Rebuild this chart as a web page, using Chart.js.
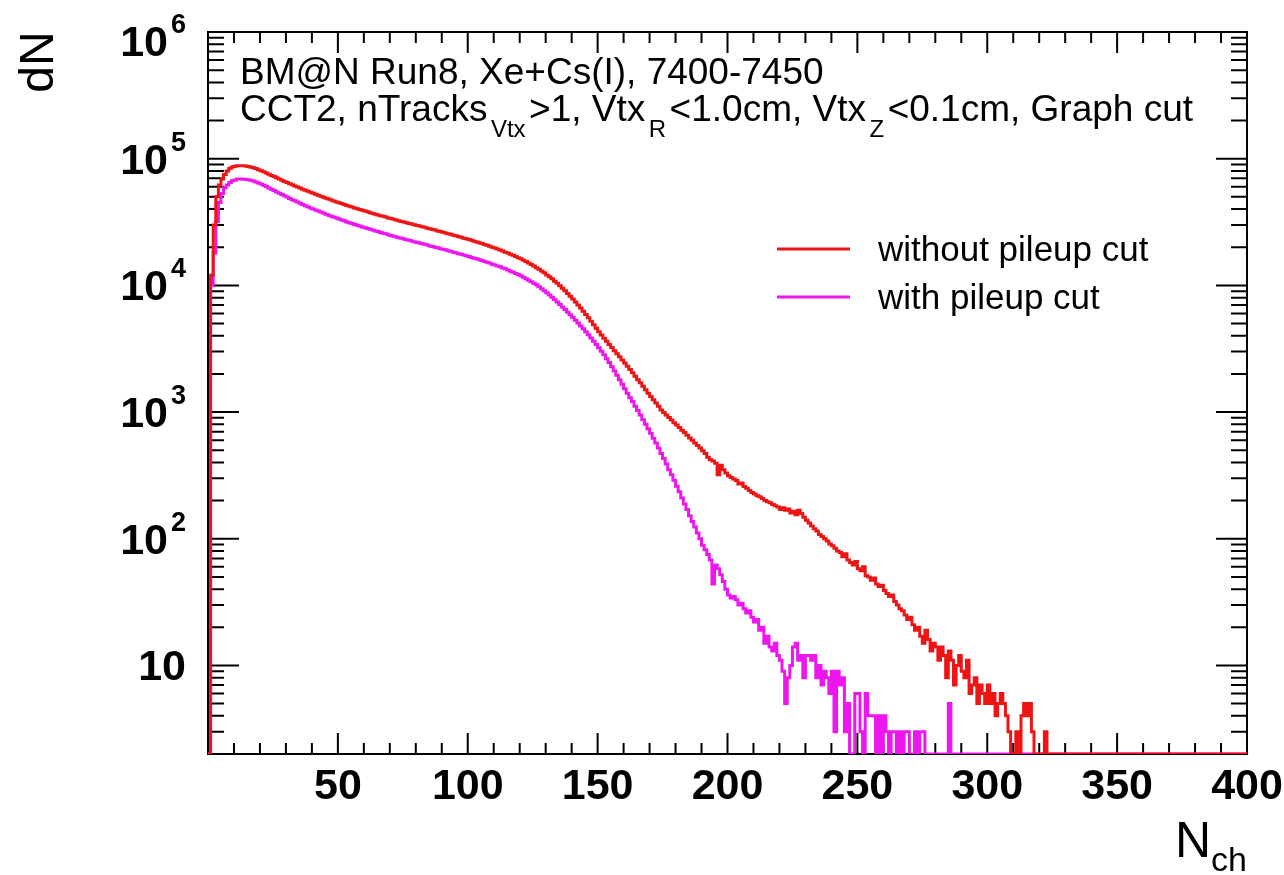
<!DOCTYPE html>
<html>
<head>
<meta charset="utf-8">
<script src="https://cdn.jsdelivr.net/npm/chart.js@4.4.1/dist/chart.umd.min.js"></script>
<style>
  html, body { margin: 0; padding: 0; background: #fff; }
  #wrap { width: 1284px; height: 875px; }
</style>
</head>
<body>
<div id="wrap"><canvas id="nchChart" width="1284" height="875"></canvas></div>
<script>
// Counts per N_ch bin (bin width 1, index = lower bin edge). Bins past the end of a list are empty.
const withoutPileupCut = [
    0, 12000, 30000, 50000, 62000, 69000, 75000, 80000, 84000, 86000,          // 0
    87000, 88000, 88000, 87800, 87500, 86900, 86000, 84800, 83500, 81900,      // 10
    80400, 78700, 77000, 75400, 73800, 72200, 70600, 69100, 67600, 66200,      // 20
    64800, 63500, 62200, 61000, 59800, 58600, 57500, 56400, 55300, 54300,      // 30
    53300, 52300, 51400, 50500, 49600, 48800, 48000, 47200, 46400, 45600,      // 40
    44900, 44200, 43500, 42800, 42200, 41500, 40900, 40300, 39700, 39200,      // 50
    38600, 38100, 37500, 37000, 36500, 36000, 35500, 35100, 34600, 34100,      // 60
    33700, 33300, 32800, 32400, 32000, 31600, 31200, 30800, 30500, 30100,      // 70
    29700, 29400, 29000, 28700, 28300, 28000, 27600, 27300, 26900, 26600,      // 80
    26300, 25900, 25600, 25300, 24900, 24600, 24300, 24000, 23600, 23300,      // 90
    23000, 22700, 22300, 22000, 21700, 21400, 21000, 20700, 20400, 20000,      // 100
    19700, 19400, 19000, 18700, 18300, 18000, 17600, 17300, 16900, 16500,      // 110
    16200, 15800, 15400, 15000, 14600, 14200, 13800, 13400, 13000, 12600,      // 120
    12100, 11700, 11300, 10800, 10400, 9930, 9490, 9060, 8640, 8220,           // 130
    7810, 7400, 7010, 6630, 6260, 5900, 5560, 5220, 4900, 4590,                // 140
    4300, 4060, 3830, 3620, 3420, 3230, 3050, 2880, 2730, 2580,                // 150
    2440, 2300, 2165, 2040, 1920, 1800, 1700, 1600, 1500, 1410,                // 160
    1330, 1250, 1180, 1110, 1040, 990, 950, 905, 865, 825,                     // 170
    790, 755, 720, 690, 655, 625, 600, 570, 545, 520,                          // 180
    495, 470, 440, 420, 410, 395, 320, 380, 350, 330,                          // 190
    315, 305, 296, 288, 270, 275, 258, 250, 240, 232,                          // 200
    226, 219, 215, 208, 200, 196, 192, 186, 182, 178,                          // 210
    170, 176, 168, 172, 160, 165, 155, 168, 158, 148,                          // 220
    140, 133, 126, 120, 115, 108, 104, 100, 96, 91,                            // 230
    88, 84, 80, 78, 72, 76, 68, 65, 62, 66,                                    // 240
    58, 56, 60, 51, 50, 47, 49, 44, 42, 43,                                    // 250
    39, 37, 35, 36, 32, 30, 28, 27, 25, 23,                                    // 260
    24, 21, 19, 20, 17, 15, 19, 16, 13, 15,                                    // 270
    14, 11, 14, 12, 8, 13, 11, 7, 10, 12,                                      // 280
    9, 8, 11, 6, 7, 8, 5, 7, 6, 5,                                             // 290
    7, 5, 6, 4, 5, 6, 5, 4, 3, 0,                                              // 300
    0, 3, 2, 4, 5, 4, 5, 3, 0, 0,                                              // 310
    0, 0, 3                                                                    // 320
];

const withPileupCut = [
    0, 10000, 18000, 32000, 45000, 53000, 59000, 62000, 65000, 67000,          // 0
    68000, 69000, 69000, 68900, 68700, 68200, 67500, 66600, 65500, 64300,      // 10
    63100, 61700, 60200, 58800, 57400, 56000, 54700, 53400, 52200, 50900,      // 20
    49800, 48600, 47500, 46500, 45500, 44500, 43500, 42600, 41700, 40900,      // 30
    40100, 39300, 38600, 37900, 37200, 36500, 35800, 35200, 34600, 34000,      // 40
    33400, 32800, 32300, 31700, 31200, 30800, 30300, 29800, 29400, 28900,      // 50
    28500, 28100, 27700, 27300, 26900, 26600, 26200, 25800, 25500, 25100,      // 60
    24800, 24400, 24100, 23800, 23500, 23200, 22900, 22700, 22400, 22100,      // 70
    21800, 21600, 21300, 21100, 20800, 20500, 20300, 20000, 19800, 19500,      // 80
    19300, 19100, 18800, 18600, 18300, 18100, 17800, 17600, 17400, 17100,      // 90
    16900, 16600, 16400, 16200, 15900, 15700, 15400, 15200, 15000, 14700,      // 100
    14500, 14200, 14000, 13700, 13500, 13200, 12900, 12700, 12400, 12200,      // 110
    11900, 11600, 11300, 11000, 10700, 10400, 10100, 9750, 9420, 9080,         // 120
    8750, 8400, 8070, 7730, 7400, 7080, 6760, 6450, 6150, 5860,                // 130
    5580, 5300, 5040, 4790, 4540, 4300, 4070, 3850, 3630, 3420,                // 140
    3220, 3020, 2830, 2640, 2460, 2280, 2110, 1950, 1800, 1660,                // 150
    1530, 1410, 1300, 1210, 1110, 1030, 950, 870, 800, 740,                    // 160
    680, 620, 570, 520, 470, 430, 390, 350, 320, 290,                          // 170
    260, 235, 210, 188, 170, 152, 137, 124, 111, 100,                          // 180
    89, 82, 75, 68, 44, 62, 58, 52, 46, 40,                                    // 190
    36, 34, 35, 33, 30, 31, 28, 26, 27, 24,                                    // 200
    22, 23, 19, 20, 15, 17, 14, 13, 15, 12,                                    // 210
    11, 9, 5, 8, 10, 14, 15, 11, 12, 8,                                        // 220
    12, 12, 11, 12, 8, 10, 7, 9, 8, 6,                                         // 230
    9, 3, 9, 7, 8, 3, 5, 0, 0, 6,                                              // 240
    6, 3, 0, 6, 4, 4, 4, 0, 4, 0,                                              // 250
    4, 3, 0, 3, 3, 0, 3, 0, 3, 3,                                              // 260
    0, 0, 3, 0, 3, 3, 0, 0, 0, 0,                                              // 270
    0, 0, 0, 0, 0, 5                                                           // 280
];

// Axis ticks and labels
const xMajorTicks = [0, 50, 100, 150, 200, 250, 300, 350, 400];
const xTickLabels = ['', '50', '100', '150', '200', '250', '300', '350', '400'];
const xMinorStep = 10;
const yDecades = [10, 100, 1000, 10000, 100000, 1000000];
const yExponents = [1, 2, 3, 4, 5, 6];

const X_MIN = 0, X_MAX = 400, NBINS = 400;
const Y_MIN = 2, Y_MAX = 1e6;

const RED = '#ee1414';
const MAGENTA = '#ee16ee';
const FONT = '"Liberation Sans", Arial, Helvetica, sans-serif';

// Info text in the top-left corner
const infoLine1 = 'BM@N Run8, Xe+Cs(I), 7400-7450';
const infoLine2 = [
    { t: 'CCT2, nTracks' }, { t: 'Vtx', sub: true }, { t: '>1, Vtx' }, { t: 'R', sub: true },
    { t: '<1.0cm, Vtx' }, { t: 'Z', sub: true }, { t: '<0.1cm, Graph cut' }
];
const legendLabels = ['without pileup cut', 'with pileup cut'];

// Build histogram points from bin counts (stepped line, value held across each bin).
// Empty bins sit on the bottom of the frame, as ROOT draws them on a log axis.
function toPoints(counts) {
    const pts = [];
    for (let i = 0; i < NBINS; i++) {
        const c = counts[i] !== undefined ? counts[i] : 0;
        pts.push({ x: X_MIN + i, y: c > 0 ? c : Y_MIN });
    }
    pts.push({ x: X_MAX, y: pts[NBINS - 1].y });
    return pts;
}

// Draw text with ROOT-like subscripts
function drawRich(ctx, parts, x, y, size) {
    let cx = x;
    parts.forEach(p => {
        if (p.sub) {
            ctx.font = Math.round(size * 0.66) + 'px ' + FONT;
            cx += 3.5;
            ctx.fillText(p.t, cx, y + size * 0.42);
            cx += ctx.measureText(p.t).width + 3.5;
        } else {
            ctx.font = size + 'px ' + FONT;
            ctx.fillText(p.t, cx, y);
            cx += ctx.measureText(p.t).width;
        }
    });
}

// Frame, ticks on all four sides, labels and titles in ROOT style
const rootStyle = {
    id: 'rootStyle',
    beforeDatasetsDraw(chart) {
        const { ctx, chartArea: a, scales: { x, y } } = chart;
        ctx.save();
        ctx.strokeStyle = '#000';
        ctx.lineWidth = 2;
        ctx.strokeRect(a.left, a.top, a.right - a.left, a.bottom - a.top);
        ctx.beginPath();
        for (let v = X_MIN; v <= X_MAX; v += xMinorStep) {
            const px = x.getPixelForValue(v);
            const len = xMajorTicks.includes(v) ? 21 : 11;
            ctx.moveTo(px, a.bottom); ctx.lineTo(px, a.bottom - len);
            ctx.moveTo(px, a.top); ctx.lineTo(px, a.top + len);
        }
        yDecades.forEach(d => {
            for (let m = 1; m <= 9; m++) {
                const v = d / 10 * m;
                if (v < Y_MIN || v > Y_MAX) continue;
                const py = y.getPixelForValue(v);
                const len = m === 1 ? 31 : 16;
                ctx.moveTo(a.left, py); ctx.lineTo(a.left + len, py);
                ctx.moveTo(a.right, py); ctx.lineTo(a.right - len, py);
            }
        });
        const py6 = y.getPixelForValue(Y_MAX);
        ctx.moveTo(a.left, py6); ctx.lineTo(a.left + 31, py6);
        ctx.moveTo(a.right, py6); ctx.lineTo(a.right - 31, py6);
        ctx.stroke();
        ctx.restore();
    },
    afterDraw(chart) {
        const { ctx, chartArea: a, scales: { x, y } } = chart;
        ctx.save();
        ctx.fillStyle = '#000';

        // x tick labels
        ctx.font = 'bold 43px ' + FONT;
        ctx.textAlign = 'center';
        ctx.textBaseline = 'alphabetic';
        xMajorTicks.forEach((v, i) => {
            ctx.fillText(xTickLabels[i], x.getPixelForValue(v), 799);
        });

        // y tick labels: 10, 10^2 ... 10^6
        yDecades.forEach((d, i) => {
            const py = Math.max(y.getPixelForValue(d), a.top + 9);
            const base = py + 15;
            ctx.font = 'bold 43px ' + FONT;
            ctx.textAlign = 'right';
            if (yExponents[i] === 1) {
                ctx.fillText('10', 186, base);
            } else {
                ctx.fillText('10', 168, base);
                ctx.font = 'bold 27px ' + FONT;
                ctx.textAlign = 'left';
                ctx.fillText(String(yExponents[i]), 171, py - 8);
            }
        });

        // axis titles
        ctx.font = '48px ' + FONT;
        ctx.textAlign = 'center';
        ctx.save();
        ctx.translate(53, 62);
        ctx.rotate(-Math.PI / 2);
        ctx.fillText('dN', 0, 0);
        ctx.restore();

        ctx.textAlign = 'left';
        ctx.font = '34px ' + FONT;
        const wch = ctx.measureText('ch').width;
        ctx.fillText('ch', a.right - wch, 871);
        ctx.font = '50px ' + FONT;
        const wN = ctx.measureText('N').width;
        ctx.fillText('N', a.right - wch - wN, 857);

        // info text
        ctx.font = '37px ' + FONT;
        ctx.fillText(infoLine1, 240, 84);
        drawRich(ctx, infoLine2, 240, 121, 37);

        // legend
        const colors = [RED, MAGENTA];
        const rows = [249, 297];
        legendLabels.forEach((label, i) => {
            ctx.strokeStyle = colors[i];
            ctx.lineWidth = 3;
            ctx.beginPath();
            ctx.moveTo(777, rows[i]);
            ctx.lineTo(850, rows[i]);
            ctx.stroke();
            ctx.fillStyle = '#000';
            ctx.font = '35px ' + FONT;
            ctx.fillText(label, 878, rows[i] + 12);
        });
        ctx.restore();
    }
};

const ctx = document.getElementById('nchChart').getContext('2d');
new Chart(ctx, {
    type: 'line',
    data: {
        datasets: [
            {
                label: legendLabels[0],
                data: toPoints(withoutPileupCut),
                borderColor: RED,
                borderWidth: 3,
                stepped: true,
                pointRadius: 0,
                fill: false
            },
            {
                label: legendLabels[1],
                data: toPoints(withPileupCut),
                borderColor: MAGENTA,
                borderWidth: 3,
                stepped: true,
                pointRadius: 0,
                fill: false
            }
        ]
    },
    options: {
        responsive: false,
        animation: false,
        layout: { padding: { left: 208, top: 32, right: 37, bottom: 121 } },
        scales: {
            x: { type: 'linear', min: X_MIN, max: X_MAX, display: false },
            y: { type: 'logarithmic', min: Y_MIN, max: Y_MAX, display: false }
        },
        plugins: {
            legend: { display: false },
            tooltip: { enabled: false }
        }
    },
    plugins: [rootStyle]
});
</script>
</body>
</html>
